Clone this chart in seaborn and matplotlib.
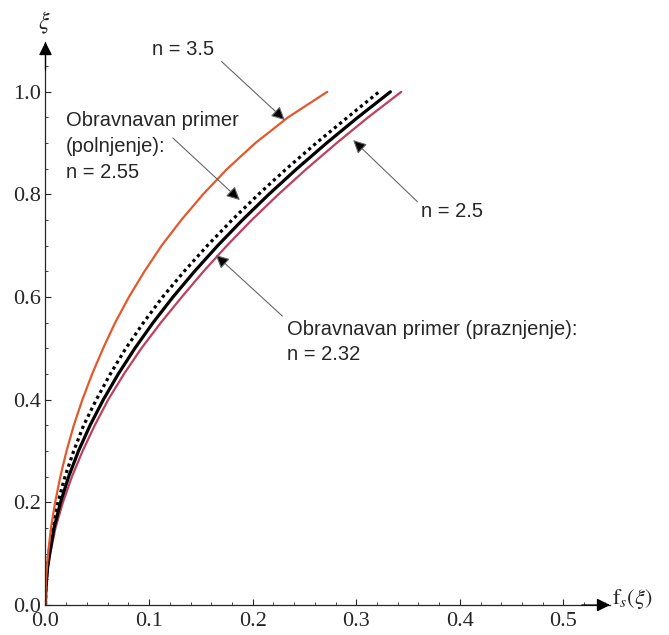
import numpy as np
import pandas as pd
import matplotlib
matplotlib.use("Agg")
import matplotlib.pyplot as plt
import seaborn as sns
from matplotlib.ticker import MultipleLocator


# xi values (vertical axis) shared by all curves
XI = [0.0, 0.025, 0.05, 0.075, 0.1, 0.15, 0.2, 0.25, 0.3, 0.35, 0.4, 0.45,
      0.5, 0.55, 0.6, 0.65, 0.7, 0.75, 0.8, 0.85, 0.9, 0.95, 1.0]

# f_s(xi) for each curve
F_N35 = [0.0, 0.0001, 0.0006, 0.0014, 0.0025, 0.0053, 0.0093, 0.0143, 0.0203, 0.0273,
         0.0356, 0.0450, 0.0556, 0.0672, 0.0805, 0.0955, 0.1120, 0.1310, 0.1520,
         0.1755, 0.2025, 0.2340, 0.2720]
F_N255 = [0.0, 0.0002, 0.0008, 0.0017, 0.0032, 0.0068, 0.0120, 0.0188, 0.0272, 0.0368,
          0.0490, 0.0625, 0.0775, 0.0945, 0.1130, 0.1338, 0.1561, 0.1800, 0.2055,
          0.2326, 0.2613, 0.2914, 0.3220]
F_N25 = [0.0, 0.00025, 0.0011, 0.0021, 0.0040, 0.0082, 0.0145, 0.0223, 0.0318, 0.0430,
         0.0558, 0.0702, 0.0862, 0.1038, 0.1230, 0.1438, 0.1661, 0.1900, 0.2155,
         0.2426, 0.2713, 0.3014, 0.3330]
F_N232 = [0.0, 0.0003, 0.0012, 0.0025, 0.0046, 0.0096, 0.0168, 0.0255, 0.0358, 0.0475,
          0.0605, 0.0757, 0.0925, 0.1113, 0.1315, 0.1525, 0.1750, 0.1990, 0.2248,
          0.2521, 0.2810, 0.3113, 0.3435]

X_TICKS = [0.0, 0.1, 0.2, 0.3, 0.4, 0.5]
Y_TICKS = [0.0, 0.2, 0.4, 0.6, 0.8, 1.0]

ORANGE = "#E2592C"
CRIMSON = "#BE3F5E"

sns.set_style("ticks")
plt.rcParams["font.family"] = ["Liberation Serif", "DejaVu Serif"]
plt.rcParams["mathtext.fontset"] = "stix"

fig = plt.figure(figsize=(6.69, 6.35), dpi=100)
ax = fig.add_axes([0.068, 0.0472, 0.8438, 0.8866])

line_kw = dict(ax=ax, sort=False, solid_joinstyle="round")
sns.lineplot(x=F_N232, y=XI, color=CRIMSON, lw=1.6, **line_kw)
sns.lineplot(x=F_N25, y=XI, color="black", lw=2.3, **line_kw)
sns.lineplot(x=F_N255, y=XI, color="black", lw=2.3, linestyle=(0, (1, 1.1)), **line_kw)
sns.lineplot(x=F_N35, y=XI, color=ORANGE, lw=1.6, **line_kw)

ax.set_xlim(0, 0.545)
ax.set_ylim(0, 1.097)
ax.set_xticks(X_TICKS)
ax.set_yticks(Y_TICKS)
ax.set_xticklabels([f"{v:.1f}" for v in X_TICKS])
ax.set_yticklabels([f"{v:.1f}" for v in Y_TICKS])
ax.xaxis.set_minor_locator(MultipleLocator(0.02))
ax.yaxis.set_minor_locator(MultipleLocator(0.05))
ax.tick_params(which="major", direction="in", length=4, width=0.8, labelsize=16)
ax.tick_params(which="minor", direction="in", length=2.5, width=0.6)
ax.tick_params(axis="x", pad=5)
ax.tick_params(axis="y", pad=3)
ax.set_xlabel("")
ax.set_ylabel("")

for side in ["top", "right"]:
    ax.spines[side].set_visible(False)
for side in ["left", "bottom"]:
    ax.spines[side].set_linewidth(0.9)

# axis arrows
ax.annotate("", xy=(1, 0), xytext=(0.95, 0), xycoords="axes fraction",
            arrowprops=dict(arrowstyle="-|>", color="black", lw=0.9,
                            mutation_scale=20, shrinkA=0, shrinkB=0))
ax.annotate("", xy=(0, 1), xytext=(0, 0.95), xycoords="axes fraction",
            arrowprops=dict(arrowstyle="-|>", color="black", lw=0.9,
                            mutation_scale=20, shrinkA=0, shrinkB=0))

ax.text(-0.0015, 1.134, r"$\xi$", fontsize=17, ha="center", va="center", clip_on=False)
ax.text(0.547, 0.0117, r"$\mathrm{f}_s(\xi)$", fontsize=16, ha="left", va="center",
        clip_on=False)

sans = ["Liberation Sans", "DejaVu Sans"]
arrow_kw = dict(arrowstyle="-|>", ec="#666666", fc="black", lw=0.8, mutation_scale=20,
                shrinkA=0, shrinkB=0)

ax.text(0.1027, 1.082, "n = 3.5", fontsize=14.5, family=sans, ha="left", va="center",
        clip_on=False)
ax.annotate("", xy=(0.231, 0.945), xytext=(0.170, 1.059), arrowprops=arrow_kw,
            annotation_clip=False)

ax.text(0.0198, 0.893, "Obravnavan primer\n(polnjenje):\nn = 2.55", fontsize=14.5,
        family=sans, ha="left", va="center", linespacing=1.45)
ax.annotate("", xy=(0.1876, 0.789), xytext=(0.123, 0.910), arrowprops=arrow_kw)

ax.text(0.363, 0.766, "n = 2.5", fontsize=14.5, family=sans, ha="left", va="center")
ax.annotate("", xy=(0.297, 0.906), xytext=(0.359, 0.786), arrowprops=arrow_kw)

ax.text(0.2329, 0.5127, "Obravnavan primer (praznjenje):\nn = 2.32", fontsize=14.5,
        family=sans, ha="left", va="center", linespacing=1.45)
ax.annotate("", xy=(0.1644, 0.682), xytext=(0.2287, 0.563), arrowprops=arrow_kw)

fig.savefig("out.png", dpi=100)
